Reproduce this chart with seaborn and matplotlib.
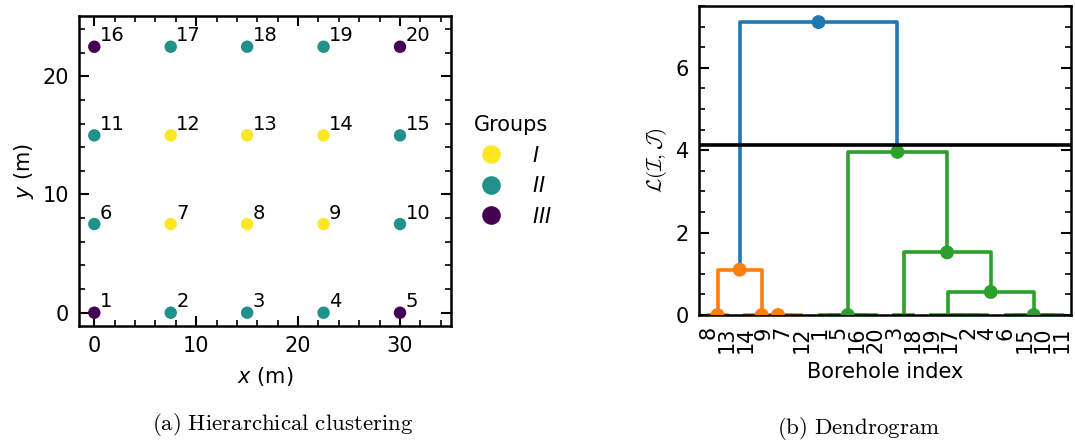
import numpy as np
import pandas as pd
import matplotlib
matplotlib.use("Agg")
import matplotlib.pyplot as plt
import seaborn as sns

# ------------------ DATOS ------------------

# posiciones de los sondeos (m)
borehole_id = list(range(1, 21))
x_m = [0, 7.5, 15, 22.5, 30] * 4
y_m = [0] * 5 + [7.5] * 5 + [15] * 5 + [22.5] * 5

# grupo de cada sondeo
grupo = ["III", "II", "II", "II", "III",
         "II", "I", "I", "I", "II",
         "II", "I", "I", "I", "II",
         "III", "II", "II", "II", "III"]
grupo_orden = ["I", "II", "III"]
grupo_etiquetas = ["$I$", "$II$", "$III$"]
grupo_colores = {"I": "#fde725", "II": "#21918c", "III": "#440154"}

# enlaces del dendrograma (estilo scipy: hojas 0..19 = sondeo-1, nodos 20+)
# (hijo_izq, hijo_der, altura, dibujar_punto)
enlaces = [
    (7, 12, 0.0, True),     # 20
    (6, 11, 0.0, False),    # 21
    (8, 21, 0.0, True),     # 22
    (13, 22, 0.0, True),    # 23
    (20, 23, 1.10, True),   # 24
    (0, 4, 0.0, False),     # 25
    (15, 19, 0.0, False),   # 26
    (25, 26, 0.0, True),    # 27
    (2, 17, 0.0, False),    # 28
    (1, 3, 0.0, False),     # 29
    (16, 29, 0.0, False),   # 30
    (18, 30, 0.0, False),   # 31
    (5, 14, 0.0, False),    # 32
    (9, 10, 0.0, False),    # 33
    (32, 33, 0.0, True),    # 34
    (31, 34, 0.56, True),   # 35
    (28, 35, 1.52, True),   # 36
    (27, 36, 3.96, True),   # 37
    (24, 37, 7.11, True),   # 38
]
umbral = 4.12

# ------------------ ESTILO ------------------

plt.rcParams.update({
    "font.size": 15,
    "axes.linewidth": 1.8,
    "xtick.direction": "in",
    "ytick.direction": "in",
    "xtick.major.size": 7,
    "ytick.major.size": 7,
    "xtick.minor.size": 4,
    "ytick.minor.size": 4,
    "xtick.major.width": 1.5,
    "ytick.major.width": 1.5,
    "xtick.minor.width": 1.2,
    "ytick.minor.width": 1.2,
    "xtick.major.pad": 7,
    "ytick.major.pad": 7,
    "axes.labelpad": 6.5,
})

fig = plt.figure(figsize=(10.75, 4.43), dpi=100)
ax1 = fig.add_axes([0.0735, 0.2641, 0.346, 0.6998])
ax2 = fig.add_axes([0.6502, 0.2889, 0.346, 0.6975])

# ------------------ (a) AGRUPAMIENTO ------------------

df = pd.DataFrame({"id": borehole_id, "x": x_m, "y": y_m, "Grupo": grupo})
sns.scatterplot(data=df, x="x", y="y", hue="Grupo", hue_order=grupo_orden,
                palette=grupo_colores, s=80, edgecolor="none", ax=ax1, zorder=3)
for _, fila in df.iterrows():
    ax1.annotate(str(fila["id"]), (fila["x"], fila["y"]), xytext=(4, 1),
                 textcoords="offset points", ha="left", va="bottom", fontsize=14)

ax1.set_xlim(-1.5, 35)
ax1.set_ylim(-1.125, 25.1)
ax1.set_xticks([0, 10, 20, 30])
ax1.set_yticks([0, 10, 20])
ax1.set_xticks(np.arange(0, 35, 2), minor=True)
ax1.set_yticks(np.arange(0, 26, 2), minor=True)
ax1.tick_params(which="both", top=True, right=True)
ax1.set_xlabel("$x$ (m)")
ax1.set_ylabel("$y$ (m)", labelpad=5)

handles, _ = ax1.get_legend_handles_labels()
ax1.legend(handles, grupo_etiquetas, title="Groups", loc="center left",
           bbox_to_anchor=(1.0, 0.5), frameon=False, markerscale=1.5,
           fontsize=15, title_fontsize=15, handletextpad=1.0)

# ------------------ (b) DENDROGRAMA ------------------

n = len(borehole_id)
hijos = {n + k: (a, b) for k, (a, b, h, p) in enumerate(enlaces)}
alturas = {n + k: h for k, (a, b, h, p) in enumerate(enlaces)}
raiz = n + len(enlaces) - 1


def orden_hojas(nodo):
    if nodo < n:
        return [nodo]
    a, b = hijos[nodo]
    return orden_hojas(a) + orden_hojas(b)


hojas = orden_hojas(raiz)
pos = {hoja: i + 0.5 for i, hoja in enumerate(hojas)}


def posicion(nodo):
    if nodo not in pos:
        a, b = hijos[nodo]
        pos[nodo] = 0.5 * (posicion(a) + posicion(b))
    return pos[nodo]


def altura(nodo):
    return alturas.get(nodo, 0.0)


# colores: por encima del umbral C0, cada cluster por debajo con un color nuevo
colores = {}
paleta = iter(["C1", "C2", "C3", "C4"])


def colorear(nodo, color):
    if nodo < n:
        return
    if altura(nodo) >= umbral:
        colores[nodo] = "C0"
        for h in hijos[nodo]:
            colorear(h, None)
    else:
        if color is None:
            color = next(paleta)
        colores[nodo] = color
        for h in hijos[nodo]:
            colorear(h, color)


colorear(raiz, None)

puntos = []
for k, (a, b, h, punto) in enumerate(enlaces):
    nodo = n + k
    xa, xb = posicion(a), posicion(b)
    ax2.plot([xa, xa, xb, xb], [altura(a), h, h, altura(b)],
             color=colores[nodo], lw=2.6, zorder=2)
    if punto:
        puntos.append({"x": posicion(nodo), "h": h, "c": colores[nodo]})

dfp = pd.DataFrame(puntos)
sns.scatterplot(data=dfp, x="x", y="h", hue="c",
                palette={c: c for c in dfp["c"].unique()},
                s=100, edgecolor="none", legend=False, ax=ax2, zorder=3)

ax2.axhline(umbral, color="black", lw=2.6, zorder=4)

ax2.set_xlim(0, n)
ax2.set_ylim(0, 1.05 * max(alturas.values()))
ax2.set_xticks([pos[h] for h in hojas])
ax2.set_xticklabels([str(borehole_id[h]) for h in hojas], rotation=90, fontsize=15)
ax2.tick_params(axis="x", length=0, pad=8)
ax2.set_yticks([0, 2, 4, 6])
ax2.set_yticks(np.arange(0, 7.6, 0.5), minor=True)
ax2.tick_params(axis="y", which="both", left=True, right=True)
ax2.set_xlabel("Borehole index")
ax2.set_ylabel(r"$\mathcal{L}(\mathcal{I},\mathcal{J})$", math_fontfamily="cm",
               labelpad=5)

# ------------------ PIES DE FIGURA ------------------

fig.text(0.263, 1 - 425 / 443, r"$\mathrm{(a)\ Hierarchical\ clustering}$",
         ha="center", va="center", fontsize=16.5, math_fontfamily="cm")
fig.text(0.799, 1 - 429 / 443, r"$\mathrm{(b)\ Dendrogram}$",
         ha="center", va="center", fontsize=16.5, math_fontfamily="cm")

fig.savefig("out.png", dpi=100)
plt.close()
